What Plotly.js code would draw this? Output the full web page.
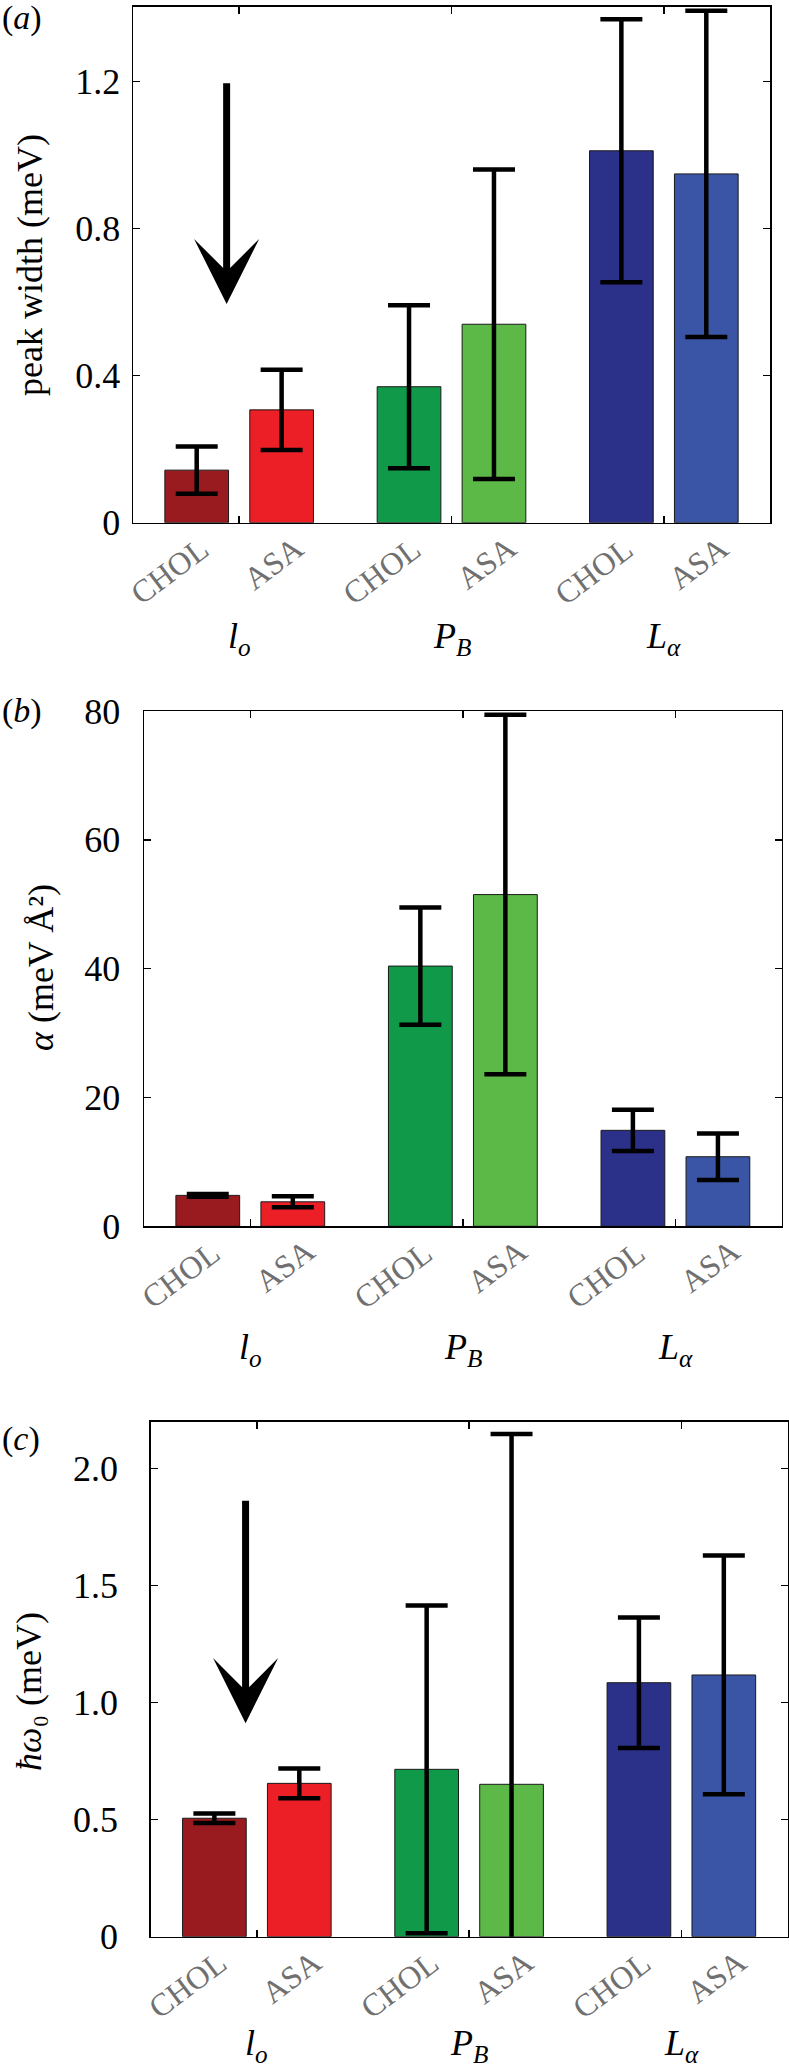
<!DOCTYPE html>
<html><head><meta charset="utf-8">
<script src="https://cdn.plot.ly/plotly-3.0.1.min.js"></script>
<style>html,body{margin:0;padding:0;background:#fff}#chart{width:789px;height:2070px}</style>
</head><body><div id="chart"></div>
<script>
// ---------- data ----------
const groups = ['lo', 'PB', 'La'];
const groupLabels = ['<i>l</i><sub><i>o</i></sub>', '<i>P</i><sub><i>B</i></sub>', '<i>L</i><sub><i>α</i></sub>'];
const seriesNames = ['CHOL', 'ASA'];
const cholColors = ['#9a1b1f', '#11994a', '#2b3088'];
const asaColors = ['#ec1f26', '#5cb947', '#3a55a5'];

// (a) peak width (meV)
const widthChol = [0.143, 0.370, 1.012];
const widthCholErr = [0.064, 0.222, 0.358];
const widthAsa = [0.307, 0.540, 0.949];
const widthAsaErr = [0.109, 0.421, 0.444];

// (b) alpha (meV Å^2)
const alphaChol = [4.8, 40.4, 14.9];
const alphaCholErr = [0.2, 9.1, 3.2];
const alphaAsa = [3.8, 51.5, 10.8];
const alphaAsaErr = [0.85, 27.9, 3.6];

// (c) hbar omega_0 (meV)
const omegaChol = [0.506, 0.715, 1.085];
const omegaCholErr = [0.02, 0.70, 0.279];
const omegaAsa = [0.655, 0.651, 1.118];
const omegaAsaErr = [0.064, 1.496, 0.51];

// tick labels
const yTicksA = [0, 0.4, 0.8, 1.2];
const yTextA = ['0', '0.4', '0.8', '1.2'];
const yTicksB = [0, 20, 40, 60, 80];
const yTextB = ['0', '20', '40', '60', '80'];
const yTicksC = [0, 0.5, 1, 1.5, 2];
const yTextC = ['0', '0.5', '1.0', '1.5', '2.0'];

// ---------- layout geometry ----------
const W = 789, H = 2070;
const FONT = 'Liberation Serif';
// per-series label style (rotation, offsets)
const catStyle = [
  {angle: -37, xshift: 21, yshift: -5},
  {angle: -37, xshift: 31, yshift: -3.5}
];
const panels = [
  {label: '(<i>a</i>)', labelY: 18.5, title: 'peak width (meV)', titleX: 30, titleY: 265,
   chol: widthChol, cholErr: widthCholErr, asa: widthAsa, asaErr: widthAsaErr,
   xPx: [133, 770], yPx: [6.7, 522.7], range: [0, 1.404], tickvals: yTicksA, ticktext: yTextA,
   standoff: 4, groupDy: 91, arrow: {x: -0.059, tail: 1.2, tip: 0.595}},
  {label: '(<i>b</i>)', labelY: 711.5, title: '<i>α</i> (meV Å²)', titleX: 41, titleY: 968,
   chol: alphaChol, cholErr: alphaCholErr, asa: alphaAsa, asaErr: alphaAsaErr,
   xPx: [144, 781.7], yPx: [711, 1226.3], range: [0, 80], tickvals: yTicksB, ticktext: yTextB,
   standoff: 15, groupDy: 99, arrow: null},
  {label: '(<i>c</i>)', labelY: 1438.5, title: '<i>ħω</i>₀ (meV)', titleX: 29, titleY: 1692,
   chol: omegaChol, cholErr: omegaCholErr, asa: omegaAsa, asaErr: omegaAsaErr,
   xPx: [150.7, 787.5], yPx: [1421.7, 1936.7], range: [0, 2.20], tickvals: yTicksC, ticktext: yTextC,
   standoff: 24, groupDy: 84, arrow: {x: -0.053, tail: 1.869, tip: 0.912}}
];

const data = [];
const layout = {
  width: W, height: H, margin: {l: 0, r: 0, t: 0, b: 0},
  paper_bgcolor: '#fff', plot_bgcolor: '#fff', showlegend: false,
  barmode: 'group', bargap: 0.2, bargroupgap: 0.25,
  font: {family: FONT, size: 36, color: '#000'},
  annotations: []
};

panels.forEach((p, i) => {
  const s = i === 0 ? '' : String(i + 1);
  const xa = 'x' + s, ya = 'y' + s;
  const errStyle = {type: 'data', visible: true, color: '#000', thickness: 4.5, width: 21};
  data.push({type: 'bar', name: seriesNames[0], x: groups, y: p.chol, xaxis: xa, yaxis: ya,
    marker: {color: cholColors, line: {color: '#1a1a1a', width: 1}},
    error_y: Object.assign({array: p.cholErr}, errStyle), hoverinfo: 'skip'});
  data.push({type: 'bar', name: seriesNames[1], x: groups, y: p.asa, xaxis: xa, yaxis: ya,
    marker: {color: asaColors, line: {color: '#1a1a1a', width: 1}},
    error_y: Object.assign({array: p.asaErr}, errStyle), hoverinfo: 'skip'});

  layout['xaxis' + s] = {
    domain: [p.xPx[0] / W, p.xPx[1] / W], anchor: ya, type: 'category',
    categoryorder: 'array', categoryarray: groups, range: [-0.5, 2.5],
    tickmode: 'array', tickvals: groups, showticklabels: false,
    ticks: 'inside', ticklen: 7, tickwidth: 1.5, tickcolor: '#000',
    showline: true, linecolor: '#000', linewidth: 1.5, mirror: 'allticks',
    showgrid: false, zeroline: false, fixedrange: true
  };
  layout['yaxis' + s] = {
    domain: [1 - p.yPx[1] / H, 1 - p.yPx[0] / H], anchor: xa, range: p.range,
    tickmode: 'array', tickvals: p.tickvals, ticktext: p.ticktext,
    ticks: 'inside', ticklen: 7, tickwidth: 1.5, tickcolor: '#000',
    showline: true, linecolor: '#000', linewidth: 1.5, mirror: 'allticks',
    showgrid: false, zeroline: false, fixedrange: true,
    tickfont: {family: FONT, size: 36, color: '#000'}, ticklabelstandoff: p.standoff
  };

  const A = layout.annotations;
  // panel label
  A.push({xref: 'paper', yref: 'paper', x: 0, y: 1 - p.labelY / H, xanchor: 'left', yanchor: 'middle',
    text: p.label, showarrow: false, font: {family: FONT, size: 34, color: '#000'}});
  // y-axis title
  A.push({xref: 'paper', yref: 'paper', x: p.titleX / W, y: 1 - p.titleY / H, xanchor: 'center', yanchor: 'middle',
    text: p.title, textangle: -90, showarrow: false, font: {family: FONT, size: 36, color: '#000'}});
  // category labels under each bar and group labels
  groups.forEach((g, j) => {
    seriesNames.forEach((nm, k) => {
      const cs = catStyle[k];
      A.push({xref: xa, yref: ya + ' domain', x: j + (k === 0 ? -0.2 : 0.2), y: 0,
        xanchor: 'right', yanchor: 'top', xshift: cs.xshift, yshift: cs.yshift, textangle: cs.angle,
        text: nm, showarrow: false, font: {family: FONT, size: 32, color: '#707070'}});
    });
    A.push({xref: xa, yref: ya + ' domain', x: j, y: 0, xanchor: 'center', yanchor: 'top',
      yshift: -p.groupDy, text: groupLabels[j], showarrow: false, font: {family: FONT, size: 36, color: '#000'}});
  });
  // arrow
  if (p.arrow) {
    A.push({xref: xa, yref: ya, axref: xa, ayref: ya, x: p.arrow.x, y: p.arrow.tip,
      ax: p.arrow.x, ay: p.arrow.tail, text: '', showarrow: true, arrowhead: 3,
      arrowsize: 1.55, arrowwidth: 7, arrowcolor: '#000'});
  }
});

Plotly.newPlot('chart', data, layout, {displayModeBar: false, staticPlot: true});
</script>
</body></html>
